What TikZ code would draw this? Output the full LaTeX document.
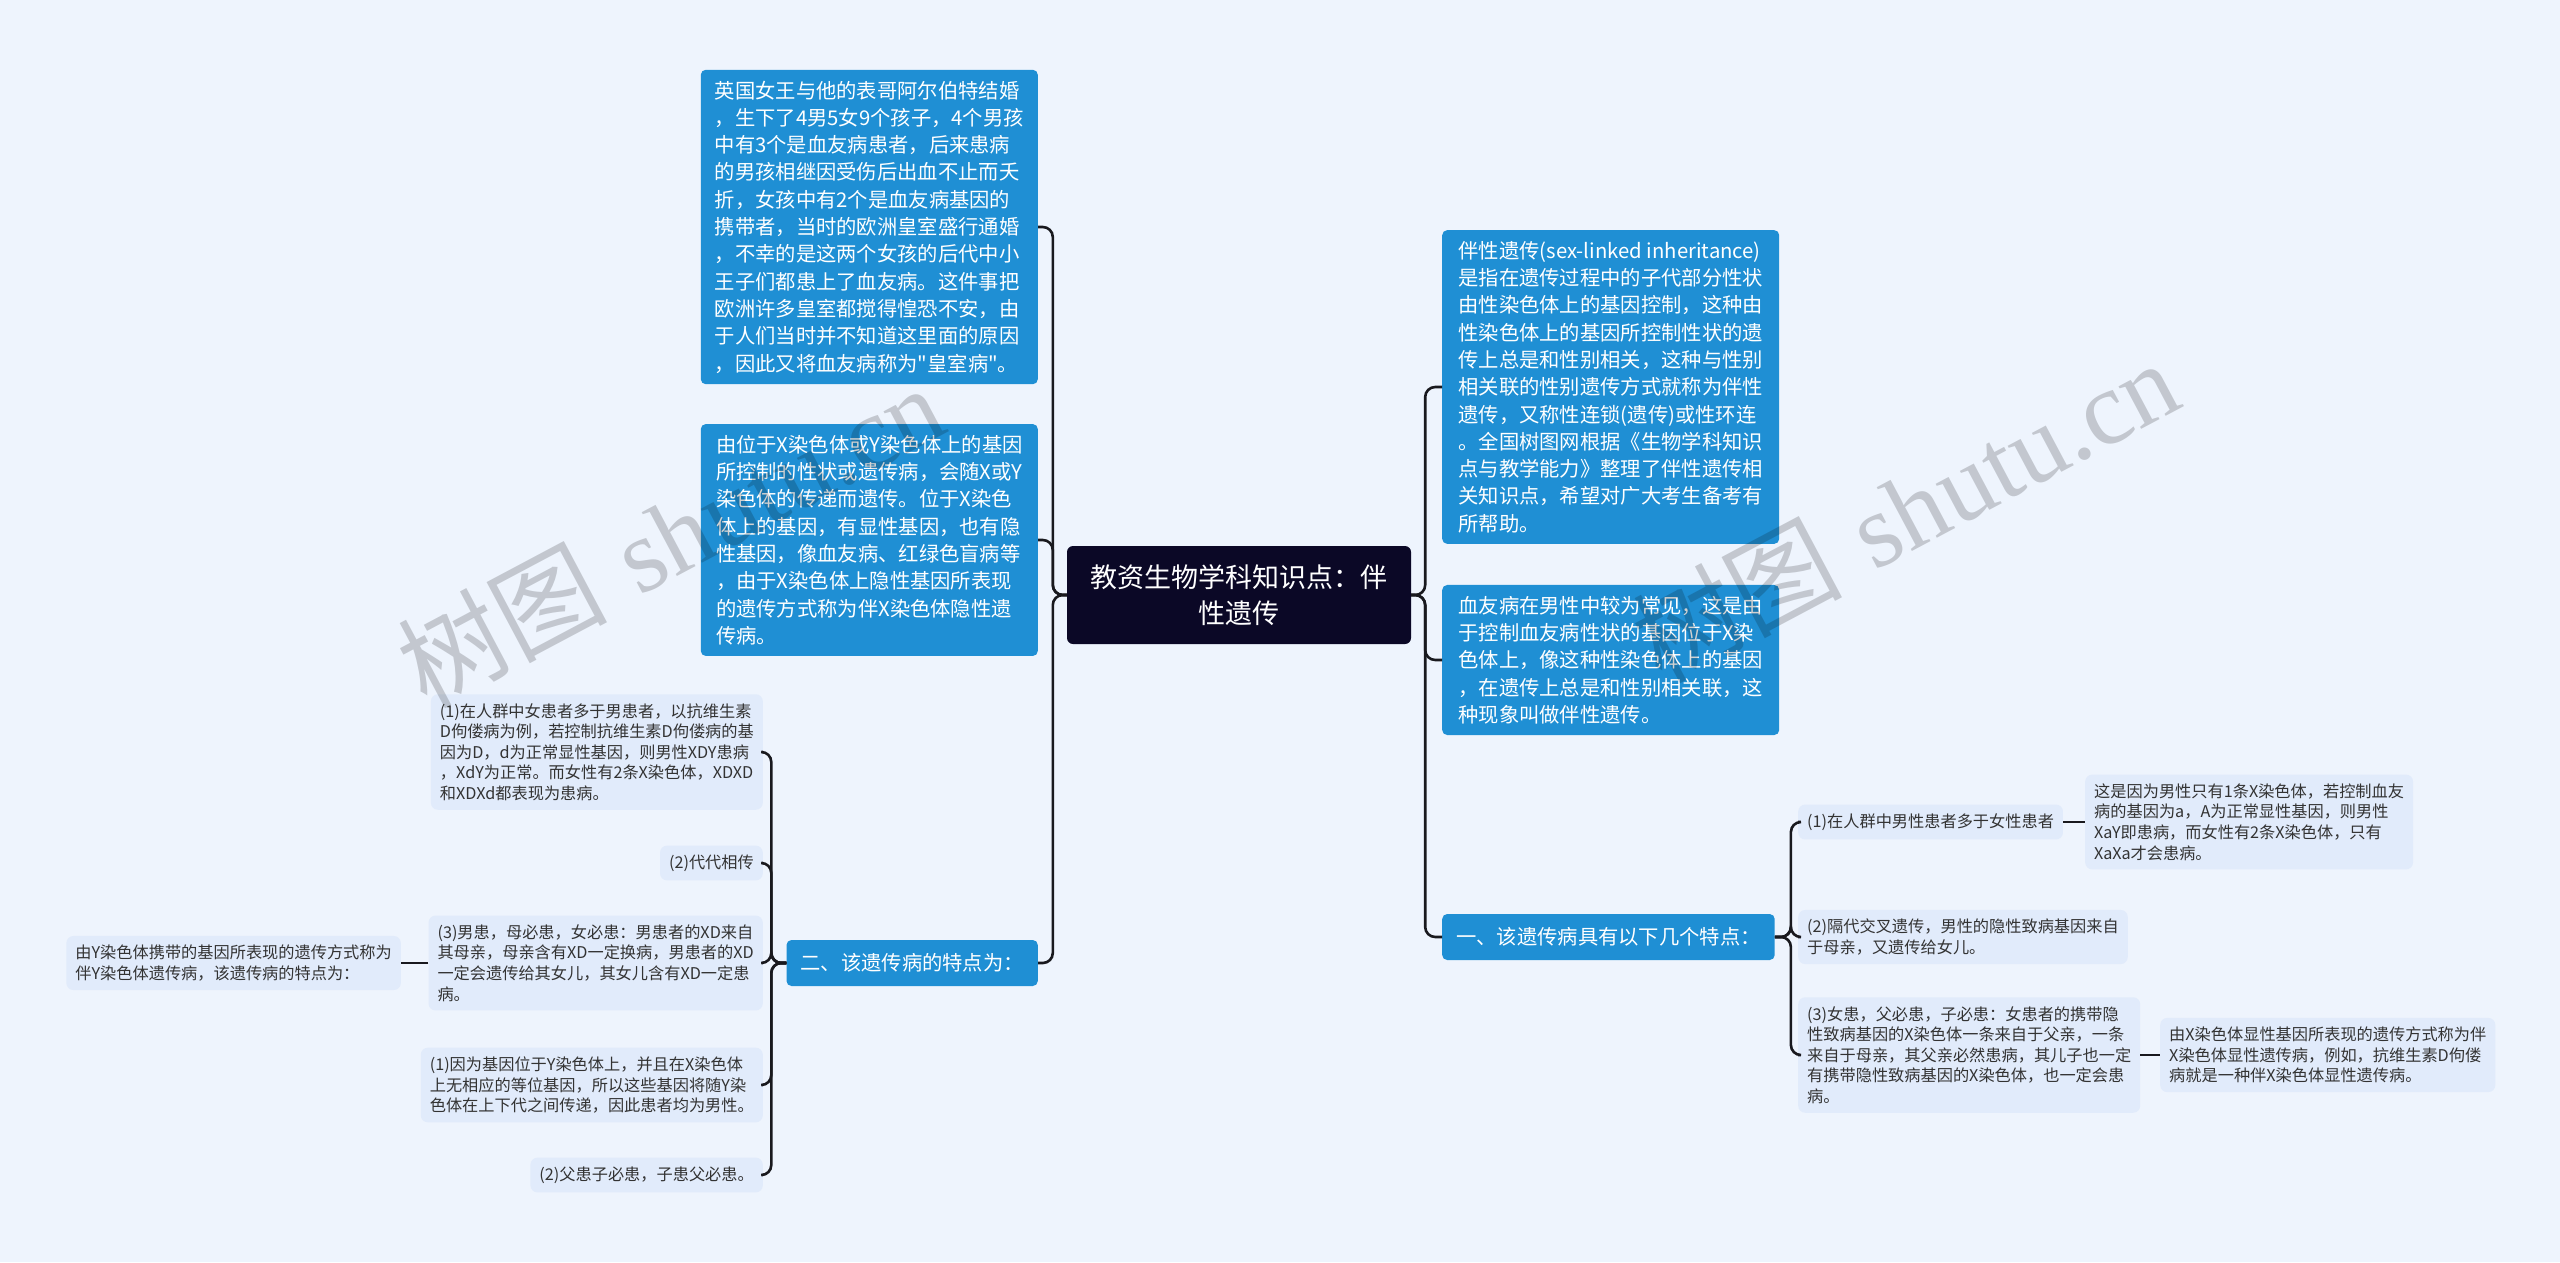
\documentclass[tikz,border=0pt]{standalone}
\usepackage{fontspec}
\newfontfamily\cjk{Noto Sans CJK SC}
\newfontfamily\wmserif{Liberation Serif}
\definecolor{pagebg}{RGB}{238,244,253}
\definecolor{rootfill}{RGB}{11,8,38}
\definecolor{bluefill}{RGB}{31,143,212}
\definecolor{leaffill}{RGB}{225,235,251}
\definecolor{linecol}{RGB}{25,25,30}
\begin{document}
\begin{tikzpicture}[
  x=1pt, y=-1pt,
  root/.style={fill=rootfill, text=white, rounded corners=6pt, align=center,
               font=\cjk\fontsize{27}{36}\selectfont, inner xsep=22pt, inner ysep=17pt,
               minimum width=344pt, minimum height=98pt},
  topic/.style={fill=bluefill, text=white, rounded corners=5pt, align=left,
                font=\cjk\fontsize{20.3}{27.3}\selectfont, inner xsep=11pt, inner ysep=11pt},
  wide/.style={topic, minimum width=337pt},
  head/.style={topic, inner xsep=14pt, minimum height=46pt},
  leaf/.style={fill=leaffill, text=black!80, rounded corners=7pt, align=left,
               font=\cjk\fontsize{16.2}{20.6}\selectfont, inner xsep=9pt, inner ysep=9pt},
  e/.style={draw=linecol, line width=2.6pt, rounded corners=10pt},
  wm/.style={text=black, opacity=0.18, rotate=28, font=\fontsize{105}{110}\selectfont}
]
\useasboundingbox (0,0) rectangle (2560,1262);
\fill[pagebg] (0,0) rectangle (2560,1262);

% root
\node[root] (root) at (1239,595) {教资生物学科知识点：伴\\性遗传};

% left topics
\node[wide, anchor=east] (l1) at (1038,227) {英国女王与他的表哥阿尔伯特结婚\\，生下了4男5女9个孩子，4个男孩\\中有3个是血友病患者，后来患病\\的男孩相继因受伤后出血不止而夭\\折，女孩中有2个是血友病基因的\\携带者，当时的欧洲皇室盛行通婚\\，不幸的是这两个女孩的后代中小\\王子们都患上了血友病。这件事把\\欧洲许多皇室都搅得惶恐不安，由\\于人们当时并不知道这里面的原因\\，因此又将血友病称为"皇室病"。};
\node[wide, anchor=east] (l2) at (1038,540) {由位于X染色体或Y染色体上的基因\\所控制的性状或遗传病，会随X或Y\\染色体的传递而遗传。位于X染色\\体上的基因，有显性基因，也有隐\\性基因，像血友病、红绿色盲病等\\，由于X染色体上隐性基因所表现\\的遗传方式称为伴X染色体隐性遗\\传病。};
\node[head, anchor=east] (l3) at (1038,963) {二、该遗传病的特点为：};

% right topics
\node[wide, anchor=west] (r1) at (1442,387) {伴性遗传(sex-linked inheritance)\\是指在遗传过程中的子代部分性状\\由性染色体上的基因控制，这种由\\性染色体上的基因所控制性状的遗\\传上总是和性别相关，这种与性别\\相关联的性别遗传方式就称为伴性\\遗传，又称性连锁(遗传)或性环连\\。全国树图网根据《生物学科知识\\点与教学能力》整理了伴性遗传相\\关知识点，希望对广大考生备考有\\所帮助。};
\node[wide, anchor=west] (r2) at (1442,660) {血友病在男性中较为常见，这是由\\于控制血友病性状的基因位于X染\\色体上，像这种性染色体上的基因\\，在遗传上总是和性别相关联，这\\种现象叫做伴性遗传。};
\node[head, anchor=west] (r3) at (1442,937) {一、该遗传病具有以下几个特点：};

% leaves under l3
\node[leaf, anchor=east] (a1) at (763,752) {(1)在人群中女患者多于男患者，以抗维生素\\D佝偻病为例，若控制抗维生素D佝偻病的基\\因为D，d为正常显性基因，则男性XDY患病\\，XdY为正常。而女性有2条X染色体，XDXD\\和XDXd都表现为患病。};
\node[leaf, anchor=east] (a2) at (763,863) {(2)代代相传};
\node[leaf, anchor=east] (a3) at (763,963) {(3)男患，母必患，女必患：男患者的XD来自\\其母亲，母亲含有XD一定换病，男患者的XD\\一定会遗传给其女儿，其女儿含有XD一定患\\病。};
\node[leaf, anchor=east] (a4) at (401,963) {由Y染色体携带的基因所表现的遗传方式称为\\伴Y染色体遗传病，该遗传病的特点为：};
\node[leaf, anchor=east] (b1) at (763,1085) {(1)因为基因位于Y染色体上，并且在X染色体\\上无相应的等位基因，所以这些基因将随Y染\\色体在上下代之间传递，因此患者均为男性。};
\node[leaf, anchor=east] (b2) at (763,1175) {(2)父患子必患，子患父必患。};

% leaves under r3
\node[leaf, anchor=west] (c1) at (1798,822) {(1)在人群中男性患者多于女性患者};
\node[leaf, anchor=west] (c1a) at (2085,822) {这是因为男性只有1条X染色体，若控制血友\\病的基因为a，A为正常显性基因，则男性\\XaY即患病，而女性有2条X染色体，只有\\XaXa才会患病。};
\node[leaf, anchor=west] (c2) at (1798,937) {(2)隔代交叉遗传，男性的隐性致病基因来自\\于母亲，又遗传给女儿。};
\node[leaf, anchor=west] (c3) at (1798,1055) {(3)女患，父必患，子必患：女患者的携带隐\\性致病基因的X染色体一条来自于父亲，一条\\来自于母亲，其父亲必然患病，其儿子也一定\\有携带隐性致病基因的X染色体，也一定会患\\病。};
\node[leaf, anchor=west] (c3a) at (2160,1055) {由X染色体显性基因所表现的遗传方式称为伴\\X染色体显性遗传病，例如，抗维生素D佝偻\\病就是一种伴X染色体显性遗传病。};

% connectors
\foreach \t in {l1,l2,l3}
  \draw[e] (root.west) -- ++(-14,0) |- (\t.east);
\foreach \t in {r1,r2,r3}
  \draw[e] (root.east) -- ++(14,0) |- (\t.west);
\foreach \t in {a1,a2,a3,b1,b2}
  \draw[e] (l3.west) -- ++(-15,0) |- (\t.east);
\foreach \t in {c1,c2,c3}
  \draw[e] (r3.east) -- ++(16,0) |- (\t.west);
\draw[e] (a3.west) -- (a4.east);
\foreach \s/\t in {c1/c1a, c3/c3a}
  \draw[e] (\s.east) -- (\t.west);

% watermark
\node[wm] (wmL) at (670,535) {{\cjk 树图} \wmserif shutu.cn};
\node[wm] (wmR) at (1905,510) {{\cjk 树图} \wmserif shutu.cn};
\end{tikzpicture}
\end{document}
